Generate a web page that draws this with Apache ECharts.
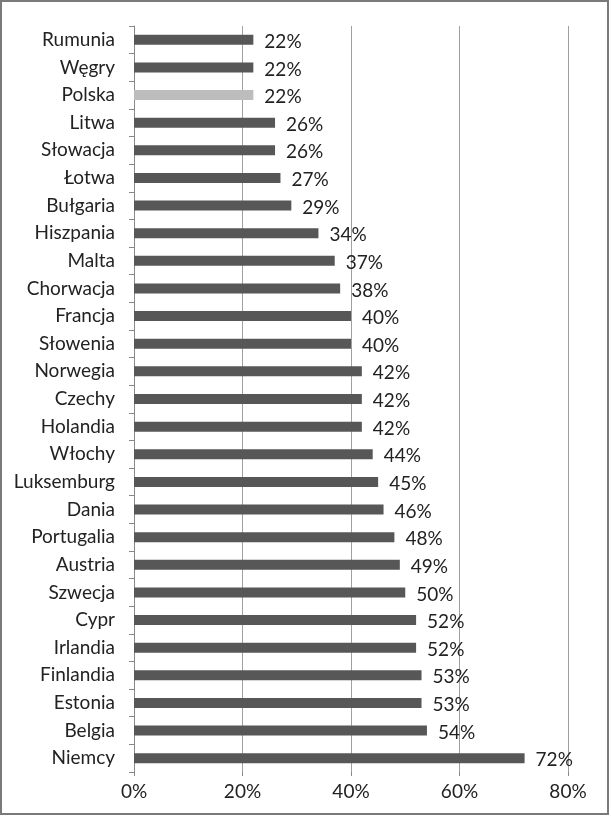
<!DOCTYPE html>
<html><head><meta charset="utf-8">
<script src="https://cdn.jsdelivr.net/npm/echarts@6/dist/echarts.min.js"></script>
<style>html,body{margin:0;padding:0;background:#fff}#c{width:611px;height:817px}</style>
</head><body><div id="c"></div>
<script>
const categories = ["Rumunia","Węgry","Polska","Litwa","Słowacja","Łotwa","Bułgaria","Hiszpania","Malta","Chorwacja","Francja","Słowenia","Norwegia","Czechy","Holandia","Włochy","Luksemburg","Dania","Portugalia","Austria","Szwecja","Cypr","Irlandia","Finlandia","Estonia","Belgia","Niemcy"];
const values = [22,22,22,26,26,27,29,34,37,38,40,40,42,42,42,44,45,46,48,49,50,52,52,53,53,54,72];
const highlight = "Polska";
const xTicks = [0,20,40,60,80];

const chart = echarts.init(document.getElementById('c'), null, {renderer:'canvas'});
const font = "Lato, 'Open Sans', sans-serif";
const fs = 19;
chart.setOption({
  animation:false,
  backgroundColor:'#fff',
  graphic:[{type:'rect',shape:{x:1,y:1,width:607,height:813},style:{fill:'none',stroke:'#7a7a7a',lineWidth:2},z:100}],
  grid:{left:134,right:43,top:26,bottom:45,containLabel:false},
  xAxis:{type:'value',min:xTicks[0],max:xTicks[xTicks.length-1],interval:20,
    axisLine:{show:false},
    axisTick:{show:true,length:4,lineStyle:{color:'#888'}},
    splitLine:{show:true,lineStyle:{color:'#a0a0a0',width:1}},
    axisLabel:{formatter:v=>v+'%',fontSize:fs,color:'#222',fontFamily:font,margin:10}},
  yAxis:{type:'category',data:categories,inverse:true,
    axisLine:{show:true,lineStyle:{color:'#888'}},
    axisTick:{show:true,length:5,inside:false,lineStyle:{color:'#888'}},
    axisLabel:{fontSize:fs,color:'#222',fontFamily:font,margin:19}},
  series:[{type:'bar',barWidth:10,
    data:values.map((v,i)=>({value:v,itemStyle:{color:categories[i]===highlight?'#bdbdbd':'#575757'}})),
    label:{show:true,position:'right',distance:11,formatter:p=>p.value+'%',fontSize:fs,color:'#222',fontFamily:font,offset:[0,2]}
  }]
});
</script></body></html>
